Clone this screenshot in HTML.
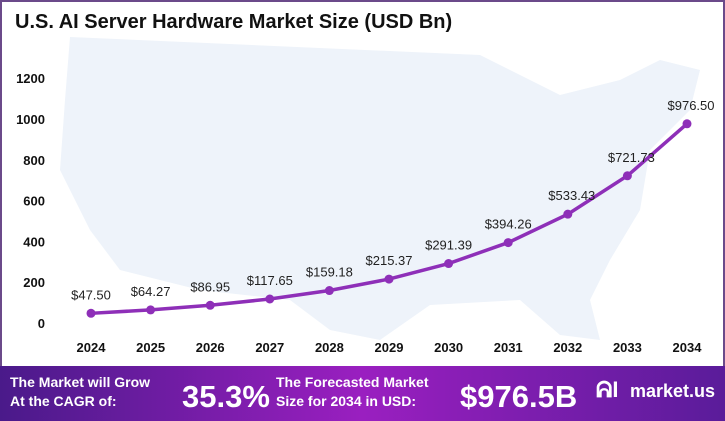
<!DOCTYPE html>
<html><head><meta charset="utf-8"><style>
body{margin:0;width:725px;height:421px;overflow:hidden;background:#fff;font-family:"Liberation Sans",sans-serif}
#wrap{position:absolute;left:0;top:0;width:721px;height:417px;border:2px solid #6b4a8a;border-bottom:none}
</style></head><body>
<div id="wrap"></div>
<svg id="c" width="725" height="421" style="position:absolute;left:0;top:0">
<defs><linearGradient id="bg" x1="0" x2="1"><stop offset="0" stop-color="#4a1a8a"/><stop offset="0.5" stop-color="#9a1fc0"/><stop offset="1" stop-color="#5a1c9a"/></linearGradient></defs>
<path d="M70 37 L480 55 L560 95 L620 80 L660 60 L700 70 L690 110 L650 150 L640 210 L610 260 L590 300 L600 340 L560 335 L520 300 L430 305 L380 340 L330 330 L290 300 L200 290 L120 270 L90 230 L60 170 L65 100 Z" fill="#eef3fa"/>
<text x="15" y="28" font-size="20" font-weight="bold" fill="#111">U.S. AI Server Hardware Market Size (USD Bn)</text>
<g id="ax"></g>
<rect x="0" y="366" width="725" height="55" fill="url(#bg)"/>
<text x="10" y="387" font-size="14" font-weight="bold" fill="#fff"><tspan x="10">The Market will Grow</tspan><tspan x="10" dy="19">At the CAGR of:</tspan></text>
<text x="182" y="407" font-size="31" font-weight="bold" fill="#fff">35.3%</text>
<text x="276" y="387" font-size="14" font-weight="bold" fill="#fff"><tspan x="276">The Forecasted Market</tspan><tspan x="276" dy="19">Size for 2034 in USD:</tspan></text>
<text x="460" y="407" font-size="31" font-weight="bold" fill="#fff">$976.5B</text>
<text x="596" y="397" font-size="22" font-weight="bold" fill="#fff">ᕱI</text>
<text x="630" y="397" font-size="18" font-weight="bold" fill="#fff">market.us</text>
</svg>
<script>
const years=["2024","2025","2026","2027","2028","2029","2030","2031","2032","2033","2034"];
const values=[47.50,64.27,86.95,117.65,159.18,215.37,291.39,394.26,533.43,721.73,976.50];
const labels=["$47.50","$64.27","$86.95","$117.65","$159.18","$215.37","$291.39","$394.26","$533.43","$721.73","$976.50"];
const yTicks=[0,200,400,600,800,1000,1200];
const NS="http://www.w3.org/2000/svg";
const g=document.getElementById('ax');
const X=i=>91+i*59.6, Y=v=>323-v*0.204;
function mk(t,a,txt){const e=document.createElementNS(NS,t);for(const k in a)e.setAttribute(k,a[k]);if(txt!==undefined)e.textContent=txt;g.appendChild(e);return e;}
yTicks.forEach(v=>{const e=mk('text',{x:45,y:Y(v)+5,'font-size':13,'font-weight':'bold','text-anchor':'end',fill:'#111'},v);

});
years.forEach((y,i)=>{const e=mk('text',{x:X(i),y:352,'font-size':13,'font-weight':'bold','text-anchor':'middle',fill:'#111'},y);

});
const p=mk('polyline',{points:values.map((v,i)=>X(i)+','+Y(v)).join(' '),fill:'none',stroke:'#8e2fb8','stroke-width':3.5});


values.forEach((v,i)=>{const c=mk('circle',{cx:X(i),cy:Y(v),r:4.5,fill:'#8e2fb8'});


const t=mk('text',{x:X(i)+(i>=8?4:0),y:Y(v)-14,'font-size':13,'text-anchor':'middle',fill:'#222'},labels[i]);

});
</script>
</body></html>
